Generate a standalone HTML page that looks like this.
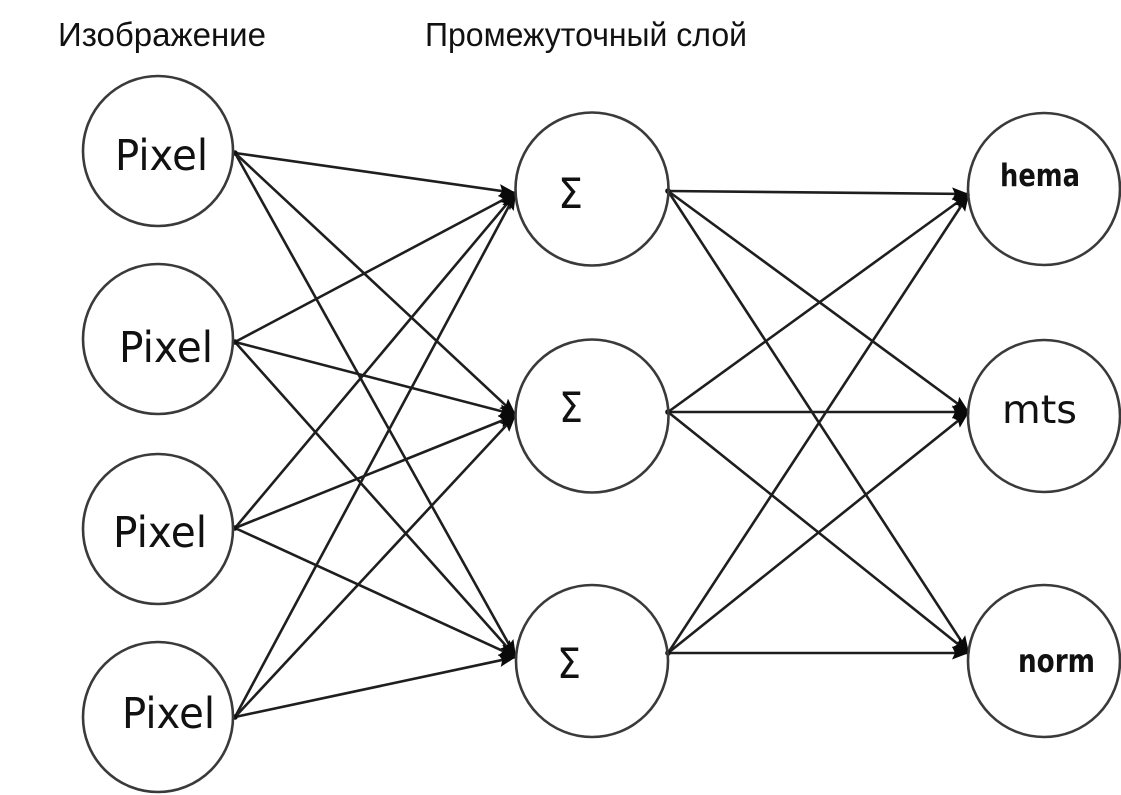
<!DOCTYPE html>
<html>
<head>
<meta charset="utf-8">
<style>
  html, body { margin: 0; padding: 0; background: #ffffff; }
  body { width: 1121px; height: 795px; overflow: hidden; }
  svg { display: block; }
</style>
</head>
<body>
<svg width="1121" height="795" viewBox="0 0 1121 795" xmlns="http://www.w3.org/2000/svg">
  <defs>
    <marker id="ah" markerUnits="userSpaceOnUse" markerWidth="20" markerHeight="16" refX="17" refY="7" orient="auto">
      <path d="M0,0.5 L17,7 L0,13.5 L3,7 Z" fill="#0a0a0a"/>
    </marker>
  </defs>
  <rect width="1121" height="795" fill="#fff"/>

  <!-- Headers -->
  <text x="58" y="46" font-family="'Liberation Sans', 'Noto Sans CJK SC', sans-serif" font-size="33" fill="#111" textLength="208" lengthAdjust="spacingAndGlyphs">Изображение</text>
  <text x="425" y="46" font-family="'Liberation Sans', 'Noto Sans CJK SC', sans-serif" font-size="33" fill="#111" textLength="322" lengthAdjust="spacingAndGlyphs">Промежуточный слой</text>

  <!-- Connectors input -> hidden -->
  <g stroke="#1e1e1e" stroke-width="2.6" fill="none" marker-end="url(#ah)">
    <line x1="235" y1="153" x2="516" y2="193"/>
    <line x1="235" y1="153" x2="516" y2="415"/>
    <line x1="235" y1="153" x2="516" y2="657"/>
    <line x1="235" y1="342" x2="516" y2="193"/>
    <line x1="235" y1="342" x2="516" y2="415"/>
    <line x1="235" y1="342" x2="516" y2="657"/>
    <line x1="235" y1="528" x2="516" y2="193"/>
    <line x1="235" y1="528" x2="516" y2="415"/>
    <line x1="235" y1="528" x2="516" y2="657"/>
    <line x1="235" y1="717" x2="516" y2="193"/>
    <line x1="235" y1="717" x2="516" y2="415"/>
    <line x1="235" y1="717" x2="516" y2="657"/>
  </g>

  <!-- Connectors hidden -> output -->
  <g stroke="#1e1e1e" stroke-width="2.6" fill="none" marker-end="url(#ah)">
    <line x1="668" y1="191" x2="969" y2="194"/>
    <line x1="668" y1="191" x2="969" y2="412"/>
    <line x1="668" y1="191" x2="969" y2="653"/>
    <line x1="668" y1="412" x2="969" y2="194"/>
    <line x1="668" y1="412" x2="969" y2="412"/>
    <line x1="668" y1="412" x2="969" y2="653"/>
    <line x1="668" y1="653" x2="969" y2="194"/>
    <line x1="668" y1="653" x2="969" y2="412"/>
    <line x1="668" y1="653" x2="969" y2="653"/>
  </g>

  <!-- Junction dots -->
  <g fill="#111">
    <circle cx="235" cy="153" r="2.8"/>
    <circle cx="235" cy="342" r="2.8"/>
    <circle cx="235" cy="528" r="2.8"/>
    <circle cx="235" cy="717" r="2.8"/>
    <circle cx="668" cy="191" r="2.8"/>
    <circle cx="668" cy="412" r="2.8"/>
    <circle cx="668" cy="653" r="2.8"/>
  </g>

  <!-- Nodes -->
  <g fill="none" stroke="#3a3a3a" stroke-width="2.6">
    <circle cx="158" cy="151" r="75"/>
    <circle cx="158" cy="339" r="75"/>
    <circle cx="158" cy="529" r="75"/>
    <circle cx="158" cy="717" r="75"/>
    <circle cx="592" cy="189" r="76.5"/>
    <circle cx="592" cy="416" r="76.5"/>
    <circle cx="592" cy="661" r="76"/>
    <circle cx="1044" cy="189" r="76"/>
    <circle cx="1044" cy="416" r="76"/>
    <circle cx="1044" cy="661" r="76"/>
  </g>

  <!-- Node labels -->
  <g font-family="'DejaVu Sans', 'Liberation Sans', sans-serif" fill="#111">
    <text x="115" y="170" font-size="43" textLength="93" lengthAdjust="spacingAndGlyphs">Pixel</text>
    <text x="119" y="362" font-size="43" textLength="94" lengthAdjust="spacingAndGlyphs">Pixel</text>
    <text x="113" y="547" font-size="43" textLength="94" lengthAdjust="spacingAndGlyphs">Pixel</text>
    <text x="122" y="728" font-size="43" textLength="93" lengthAdjust="spacingAndGlyphs">Pixel</text>

    <text x="558" y="208" font-size="42" textLength="25" lengthAdjust="spacingAndGlyphs">Σ</text>
    <text x="559" y="422" font-size="42" textLength="24" lengthAdjust="spacingAndGlyphs">Σ</text>
    <text x="557" y="678" font-size="42" textLength="24" lengthAdjust="spacingAndGlyphs">Σ</text>

    <text x="1000" y="186" font-size="31" font-weight="bold" textLength="80" lengthAdjust="spacingAndGlyphs">hema</text>
    <text x="1002" y="423" font-size="39" textLength="75" lengthAdjust="spacingAndGlyphs">mts</text>
    <text x="1018" y="672" font-size="32" font-weight="bold" textLength="77" lengthAdjust="spacingAndGlyphs">norm</text>
  </g>
</svg>
</body>
</html>
